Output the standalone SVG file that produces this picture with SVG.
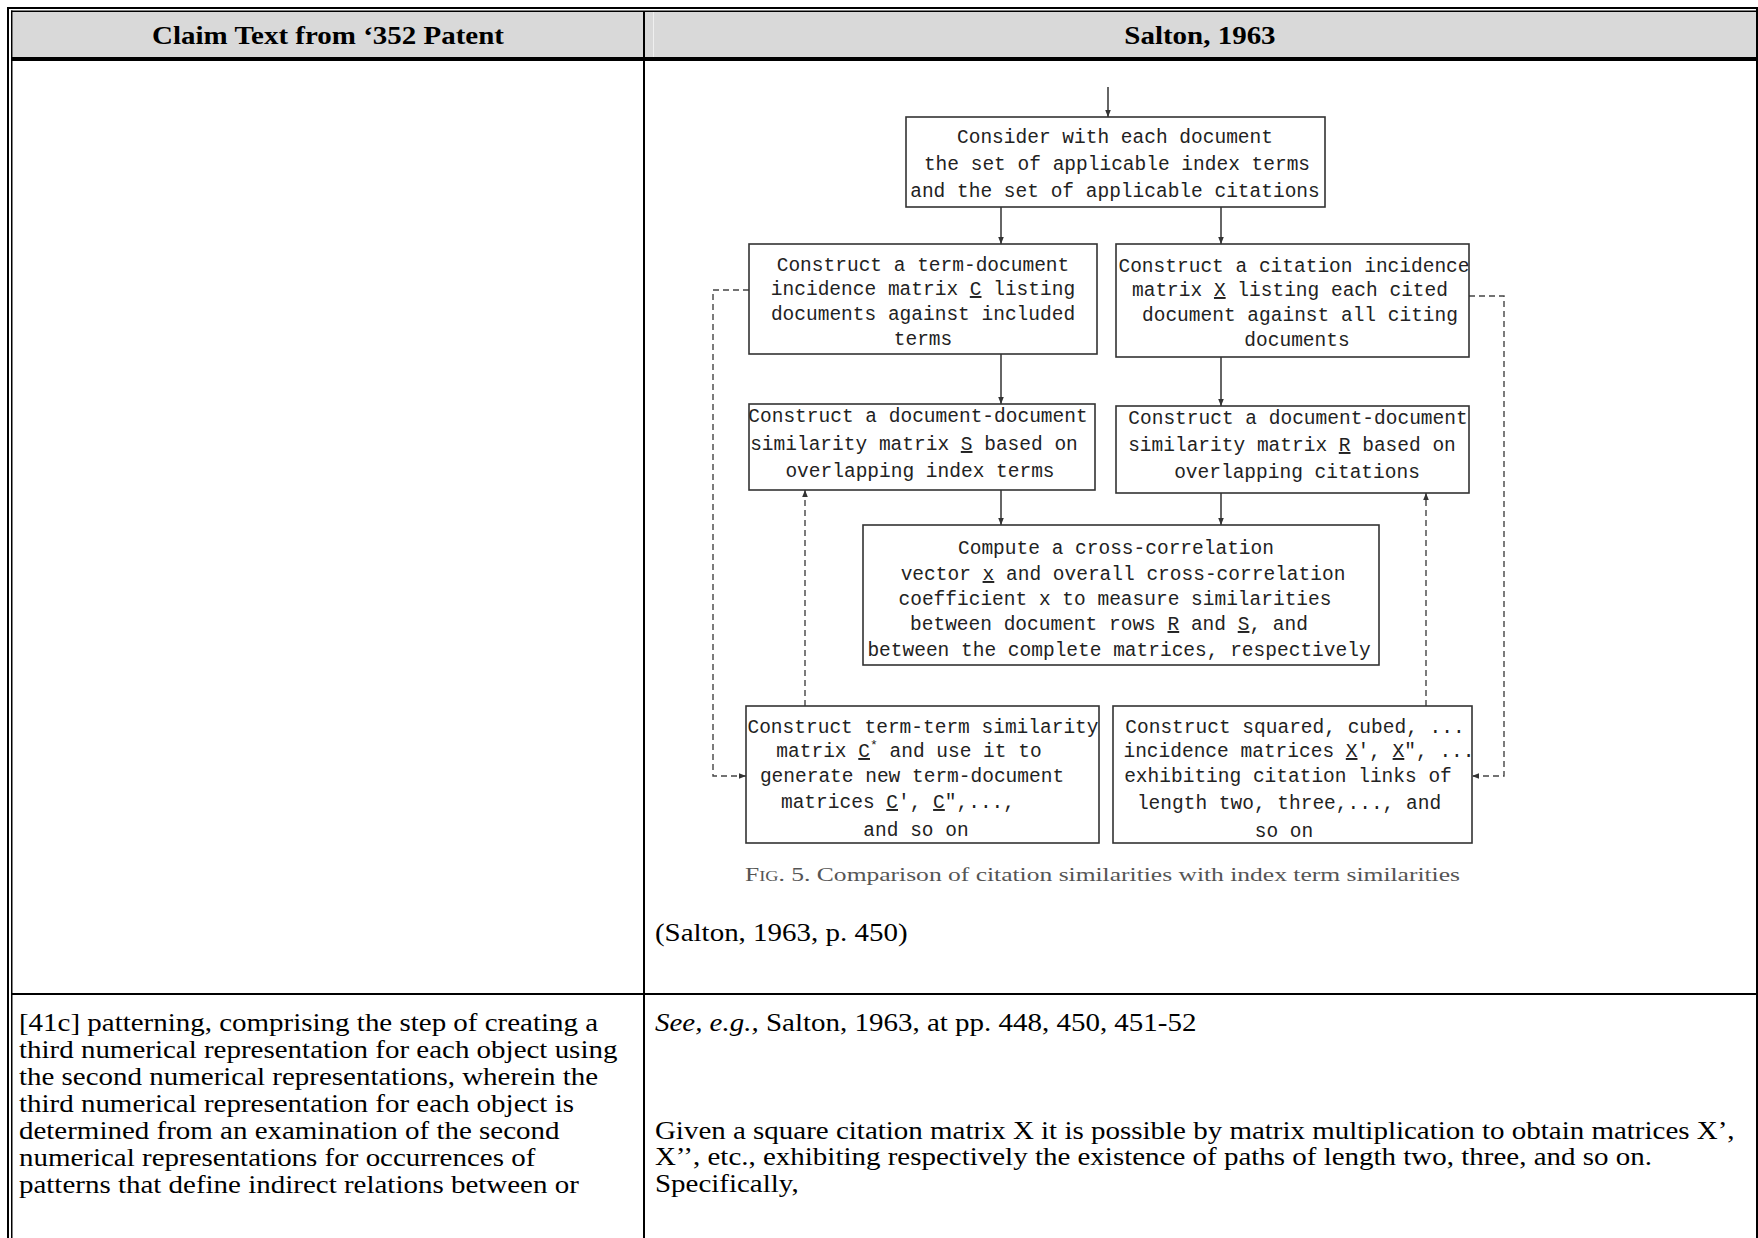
<svg xmlns="http://www.w3.org/2000/svg" width="1758" height="1238" viewBox="0 0 1758 1238">
  <style>
    .serif { font-family: "Liberation Serif", "Times New Roman", serif; fill: #000; }
    .hdr { font-size: 26px; font-weight: bold; text-anchor: middle; }
    .body { font-size: 26px; }
    .mono { font-family: "Liberation Mono", "DejaVu Sans Mono", monospace; font-size: 19.5px; fill: #222; text-anchor: middle; }
    .u { text-decoration: underline; }
    .box { fill: #fff; stroke: #333; stroke-width: 1.6; }
    .solid { fill: none; stroke: #333; stroke-width: 1.5; }
    .dash { fill: none; stroke: #444; stroke-width: 1.4; stroke-dasharray: 6 4; }
    .caption { font-family: "Liberation Serif", "Times New Roman", serif; font-size: 19.5px; fill: #555; }
  </style>
  <defs>
    <marker id="arr" viewBox="0 0 10 10" refX="10" refY="5" markerWidth="7" markerHeight="7" orient="auto" markerUnits="userSpaceOnUse">
      <path d="M0,1 L10,5 L0,9 z" fill="#333"/>
    </marker>
  </defs>

  <rect width="1758" height="1238" fill="#fff"/>

  <!-- table frame -->
  <g id="table">
    <rect x="12.5" y="12" width="1743.5" height="45" fill="#d9d9d9"/>
    <rect x="653" y="12" width="1" height="45" fill="#efefef"/>
    <rect x="7" y="7" width="1751" height="2" fill="#000"/>
    <rect x="11" y="10.5" width="1747" height="1.5" fill="#000"/>
    <rect x="7" y="7" width="2" height="1231" fill="#000"/>
    <rect x="11" y="10.5" width="1.5" height="1228" fill="#000"/>
    <rect x="1756" y="7" width="2" height="1231" fill="#000"/>
    <rect x="11" y="57" width="1747" height="4" fill="#000"/>
    <rect x="643" y="11" width="2" height="1227" fill="#000"/>
    <rect x="11" y="993" width="1747" height="2" fill="#000"/>
  </g>

  <!-- header (serif text is set slightly wide: scaled 1.115 horizontally) -->
  <g id="header" transform="scale(1.115,1)">
    <text class="serif hdr" x="294.2" y="44">Claim Text from ‘352 Patent</text>
    <text class="serif hdr" x="1076.2" y="44">Salton, 1963</text>
  </g>

  <!-- flowchart connectors -->
  <g id="connectors">
    <line class="solid" x1="1108" y1="87" x2="1108" y2="117" marker-end="url(#arr)"/>
    <line class="solid" x1="1001" y1="207" x2="1001" y2="244" marker-end="url(#arr)"/>
    <line class="solid" x1="1221" y1="207" x2="1221" y2="244" marker-end="url(#arr)"/>
    <line class="solid" x1="1001" y1="354" x2="1001" y2="404" marker-end="url(#arr)"/>
    <line class="solid" x1="1221" y1="357" x2="1221" y2="406" marker-end="url(#arr)"/>
    <line class="solid" x1="1001" y1="490" x2="1001" y2="525" marker-end="url(#arr)"/>
    <line class="solid" x1="1221" y1="493" x2="1221" y2="525" marker-end="url(#arr)"/>
    <line class="dash" x1="805" y1="706" x2="805" y2="490" marker-end="url(#arr)"/>
    <line class="dash" x1="1426" y1="706" x2="1426" y2="493" marker-end="url(#arr)"/>
    <polyline class="dash" points="749,290 713,290 713,776 746,776" marker-end="url(#arr)"/>
    <polyline class="dash" points="1469,296 1504,296 1504,776 1472,776" marker-end="url(#arr)"/>
  </g>

  <!-- flowchart nodes -->
  <g id="n-consider">
    <rect class="box" x="906" y="117" width="419" height="90"/>
    <text class="mono" x="1115" y="143">Consider with each document</text>
    <text class="mono" x="1117" y="170">the set of applicable index terms</text>
    <text class="mono" x="1115" y="197">and the set of applicable citations</text>
  </g>
  <g id="n-term-doc">
    <rect class="box" x="749" y="244" width="348" height="110"/>
    <text class="mono" x="923" y="271">Construct a term-document</text>
    <text class="mono" x="923" y="295">incidence matrix <tspan class="u">C</tspan> listing</text>
    <text class="mono" x="923" y="320">documents against included</text>
    <text class="mono" x="923" y="345">terms</text>
  </g>
  <g id="n-citation">
    <rect class="box" x="1116" y="244" width="353" height="113"/>
    <text class="mono" x="1294" y="272">Construct a citation incidence</text>
    <text class="mono" x="1290" y="296">matrix <tspan class="u">X</tspan> listing each cited</text>
    <text class="mono" x="1300" y="321">document against all citing</text>
    <text class="mono" x="1297" y="346">documents</text>
  </g>
  <g id="n-sim-s">
    <rect class="box" x="749" y="404" width="346" height="86"/>
    <text class="mono" x="918" y="422">Construct a document-document</text>
    <text class="mono" x="914" y="450">similarity matrix <tspan class="u">S</tspan> based on</text>
    <text class="mono" x="920" y="477">overlapping index terms</text>
  </g>
  <g id="n-sim-r">
    <rect class="box" x="1116" y="406" width="353" height="87"/>
    <text class="mono" x="1298" y="424">Construct a document-document</text>
    <text class="mono" x="1292" y="451">similarity matrix <tspan class="u">R</tspan> based on</text>
    <text class="mono" x="1297" y="478">overlapping citations</text>
  </g>
  <g id="n-cross">
    <rect class="box" x="863" y="525" width="516" height="140"/>
    <text class="mono" x="1116" y="554">Compute a cross-correlation</text>
    <text class="mono" x="1123" y="580">vector <tspan class="u">x</tspan> and overall cross-correlation</text>
    <text class="mono" x="1115" y="605">coefficient x to measure similarities</text>
    <text class="mono" x="1109" y="630">between document rows <tspan class="u">R</tspan> and <tspan class="u">S</tspan>, and</text>
    <text class="mono" x="1119" y="656">between the complete matrices, respectively</text>
  </g>
  <g id="n-term-term">
    <rect class="box" x="746" y="706" width="353" height="137"/>
    <text class="mono" x="923" y="733">Construct term-term similarity</text>
    <text class="mono" x="909" y="757">matrix <tspan class="u">C</tspan><tspan dy="-8" font-size="13">*</tspan><tspan dy="8"> and use it to</tspan></text>
    <text class="mono" x="912" y="782">generate new term-document</text>
    <text class="mono" x="898" y="808">matrices <tspan class="u">C</tspan>', <tspan class="u">C</tspan>",...,</text>
    <text class="mono" x="916" y="836">and so on</text>
  </g>
  <g id="n-powers">
    <rect class="box" x="1113" y="706" width="359" height="137"/>
    <text class="mono" x="1295" y="733">Construct squared, cubed, ...</text>
    <text class="mono" x="1299" y="757">incidence matrices <tspan class="u">X</tspan>', <tspan class="u">X</tspan>", ...</text>
    <text class="mono" x="1288" y="782">exhibiting citation links of</text>
    <text class="mono" x="1289" y="809">length two, three,..., and</text>
    <text class="mono" x="1284" y="837">so on</text>
  </g>

  <!-- figure caption -->
  <g id="caption">
    <text class="caption" x="745" y="881" textLength="715" lengthAdjust="spacingAndGlyphs"><tspan font-variant="small-caps">Fig.</tspan> 5.  Comparison of citation similarities with index term similarities</text>
  </g>

  <!-- cell texts (serif text is set slightly wide: scaled 1.115 horizontally) -->
  <g id="cell-text" transform="scale(1.115,1)">
    <text class="serif body" x="587.4" y="941">(Salton, 1963, p. 450)</text>

    <text class="serif body" x="17" y="1031">[41c] patterning, comprising the step of creating a</text>
    <text class="serif body" x="17" y="1058">third numerical representation for each object using</text>
    <text class="serif body" x="17" y="1085">the second numerical representations, wherein the</text>
    <text class="serif body" x="17" y="1112">third numerical representation for each object is</text>
    <text class="serif body" x="17" y="1139">determined from an examination of the second</text>
    <text class="serif body" x="17" y="1166">numerical representations for occurrences of</text>
    <text class="serif body" x="17" y="1193">patterns that define indirect relations between or</text>

    <text class="serif body" x="587.4" y="1031"><tspan font-style="italic">See, e.g.,</tspan> Salton, 1963, at pp. 448, 450, 451-52</text>
    <text class="serif body" x="587.4" y="1139">Given a square citation matrix X it is possible by matrix multiplication to obtain matrices X’,</text>
    <text class="serif body" x="587.4" y="1165">X’’, etc., exhibiting respectively the existence of paths of length two, three, and so on.</text>
    <text class="serif body" x="587.4" y="1192">Specifically,</text>
  </g>
</svg>
